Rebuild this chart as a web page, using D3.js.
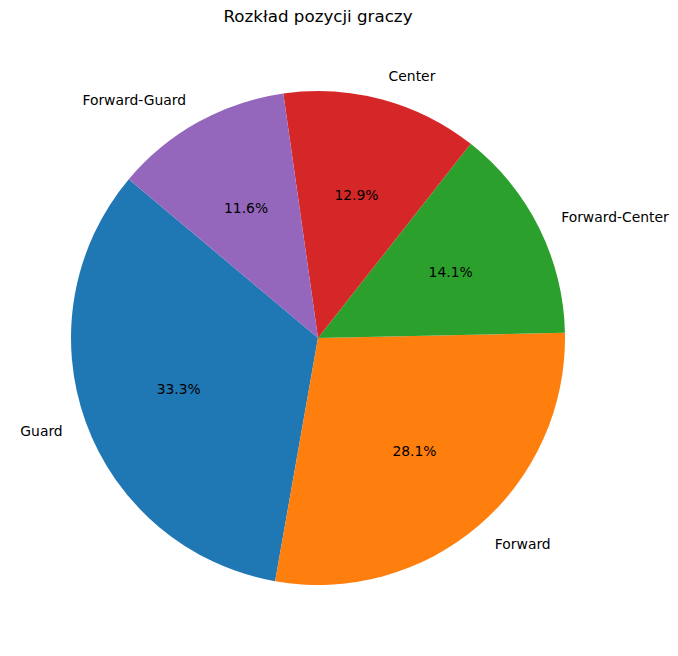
<!DOCTYPE html>
<html><head><meta charset="utf-8">
<script src="https://cdn.jsdelivr.net/npm/d3@7"></script>
<style>body{margin:0;background:#fff}svg{display:block}text{font-family:"DejaVu Sans",sans-serif;fill:#000}</style>
</head><body>
<script>
const categories = ["Guard", "Forward", "Forward-Center", "Center", "Forward-Guard"];
const counts = [83, 70, 35, 32, 29];
const colors = ["#1f77b4", "#ff7f0e", "#2ca02c", "#d62728", "#9467bd"];
const title = "Rozkład pozycji graczy";

const W = 678, H = 656, cx = 318, cy = 338, R = 247;
const svg = d3.select("body").append("svg").attr("width", W).attr("height", H);
const g = svg.append("g").attr("transform", `translate(${cx},${cy})`);

const data = categories.map((c, i) => ({cat: c, v: counts[i], col: colors[i]}));
const deg = Math.PI / 180;
// matplotlib startangle=140 counterclockwise -> d3 angle (clockwise from 12 o'clock)
const pie = d3.pie().value(d => d.v).sort(null).startAngle(-50 * deg).endAngle(-410 * deg);
const arcs = pie(data);
const total = d3.sum(counts);
const arc = d3.arc().innerRadius(0).outerRadius(R);

g.selectAll("path").data(arcs).join("path").attr("d", arc).attr("fill", d => d.data.col);

function pos(d, f) {
  const a = (d.startAngle + d.endAngle) / 2;
  return [Math.sin(a) * R * f, -Math.cos(a) * R * f];
}
g.selectAll("text.lab").data(arcs).join("text").attr("class", "lab")
  .attr("x", d => pos(d, 1.1)[0]).attr("y", d => pos(d, 1.1)[1])
  .attr("text-anchor", d => pos(d, 1.1)[0] > 0 ? "start" : "end")
  .attr("dominant-baseline", "central").style("font-size", "13.9px")
  .text(d => d.data.cat);
g.selectAll("text.pct").data(arcs).join("text").attr("class", "pct")
  .attr("x", d => pos(d, 0.6)[0]).attr("y", d => pos(d, 0.6)[1])
  .attr("text-anchor", "middle").attr("dominant-baseline", "central").style("font-size", "13.9px")
  .text(d => (d.data.v / total * 100).toFixed(1) + "%");

svg.append("text").attr("x", cx).attr("y", 22).attr("text-anchor", "middle")
  .style("font-size", "16.7px").text(title);
</script>
</body></html>
